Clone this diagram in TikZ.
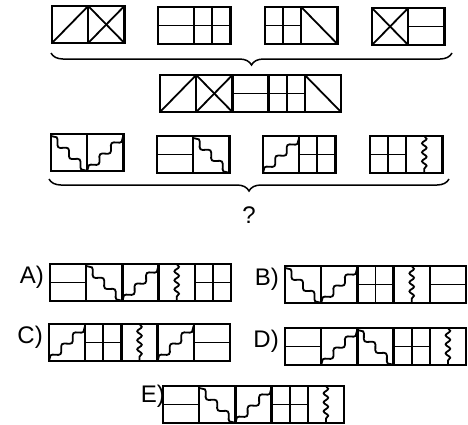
\documentclass[tikz,border=0pt]{standalone}
\usepackage{fontspec}
\setmainfont{Liberation Sans}
\usetikzlibrary{decorations.pathmorphing,decorations.pathreplacing}
\newcommand{\cellw}{36.2}
\newcommand{\cellh}{37}
% one pic for each kind of cell
\tikzset{
  pics/diagup/.style={code={\draw[inner] (0,\cellh) -- (\cellw,0);}},
  pics/diagdown/.style={code={\draw[inner] (0,0) -- (\cellw,\cellh);}},
  pics/cross/.style={code={\draw[inner] (0,\cellh) -- (\cellw,0); \draw[inner] (0,0) -- (\cellw,\cellh);}},
  pics/hline/.style={code={\draw[inner] (0,\cellh/2) -- (\cellw,\cellh/2);}},
  pics/grid/.style={code={\draw[inner] (0,\cellh/2) -- (\cellw,\cellh/2); \draw[inner] (\cellw/2,0) -- (\cellw/2,\cellh);}},
  pics/wavedown/.style={code={\draw[inner,wavy] (0,2) -- (\cellw,\cellh);}},
  pics/waveup/.style={code={\draw[inner,wavy] (0,\cellh) -- (\cellw,2);}},
  pics/vwave/.style={code={\draw[inner,zig] (\cellw/2,0) -- (\cellw/2,\cellh);}}
}
% a strip of cells, top left corner at (#1,#2)
\newcommand{\strip}[3]{%
  \foreach \c [count=\i from 0] in {#3}{
    \draw[edge] ({#1+\i*\cellw},#2) rectangle ++(\cellw,\cellh);
    \pic at ({#1+\i*\cellw},#2) {\c};
  }}
\begin{document}
\begin{tikzpicture}[
  x=1pt,y=-1pt,
  edge/.style={draw=black,line width=2.4pt},
  inner/.style={draw=black,line width=1.8pt},
  wavy/.style={decorate,decoration={snake,amplitude=3pt,segment length=16pt}},
  zig/.style={decorate,decoration={snake,amplitude=2.3pt,segment length=9pt}},
  curly/.style={draw=black,line width=1.5pt,decorate,decoration={brace,mirror,amplitude=12pt}},
  lab/.style={font=\fontsize{24}{28}\selectfont,inner sep=0pt}
]
\useasboundingbox (0,0) rectangle (468,424);

% First series
\strip{52}{6}{diagup,cross}
\strip{158}{7}{hline,grid}
\strip{265}{7}{grid,diagdown}
\strip{372}{8}{cross,hline}
\draw[curly] (51,53) -- (452,53);
\strip{160}{75}{diagup,cross,hline,grid,diagdown}

% Second series
\strip{51}{134}{wavedown,waveup}
\strip{157}{136}{hline,wavedown}
\strip{263}{136}{waveup,grid}
\strip{370}{136}{grid,vwave}
\draw[curly] (49,179) -- (449,179);
\node[lab] (q) at (249,215) {?};

% Answers
\node[lab,anchor=east] (la) at (44,277) {A)};
\strip{50}{264}{hline,wavedown,waveup,vwave,grid}
\node[lab,anchor=east] (lb) at (279,279) {B)};
\strip{285}{266}{wavedown,waveup,grid,vwave,hline}
\node[lab,anchor=east] (lc) at (43,337) {C)};
\strip{49}{324}{waveup,grid,vwave,waveup,hline}
\node[lab,anchor=east] (ld) at (279,341) {D)};
\strip{285}{328}{hline,waveup,wavedown,grid,vwave}
\node[lab,anchor=east] (le) at (165,396) {E)};
\strip{163}{386}{hline,wavedown,waveup,grid,vwave}
\end{tikzpicture}
\end{document}
